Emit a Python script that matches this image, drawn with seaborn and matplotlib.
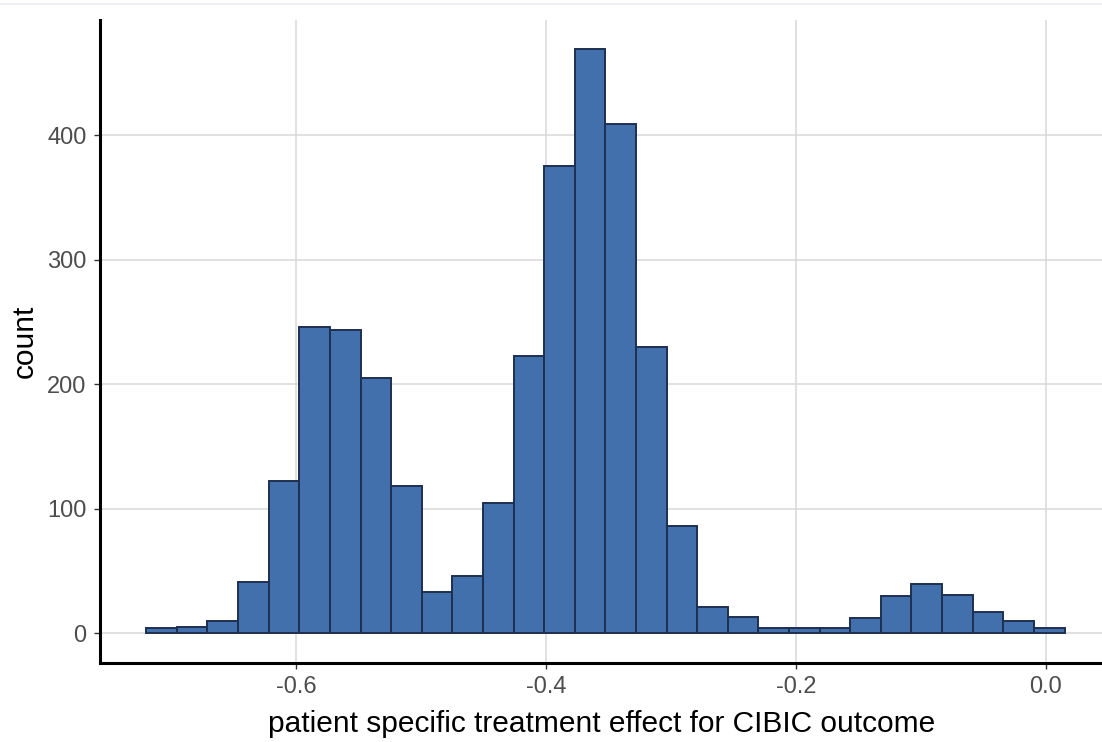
import numpy as np
import pandas as pd
import matplotlib
matplotlib.use("Agg")
import matplotlib.pyplot as plt
import seaborn as sns

# bins of the histogram (30 bins)
bin_start = -0.72
bin_width = 0.0245
counts = [4, 5, 10, 41, 122, 246, 244, 205, 118, 33,
          46, 105, 223, 375, 469, 409, 230, 86, 21, 13,
          4, 4, 4, 12, 30, 40, 31, 17, 10, 4]

edges = bin_start + bin_width * np.arange(len(counts) + 1)
centers = (edges[:-1] + edges[1:]) / 2
df = pd.DataFrame({'effect': centers, 'n': counts})

sns.set_theme(style='whitegrid')
plt.rcParams['font.family'] = ['Liberation Sans', 'DejaVu Sans']

fig = plt.figure(figsize=(11.02, 7.42), dpi=100)
ax = fig.add_axes([0.091, 0.107, 0.909, 0.866])

sns.histplot(data=df, x='effect', weights='n', bins=len(counts),
             binrange=(edges[0], edges[-1]), ax=ax,
             color='#4270AD', edgecolor='#1E3050', linewidth=1.4, alpha=1)

ax.set_xlim(-0.7568, 0.0450)
ax.set_ylim(-23.45, 492.5)
ax.set_xticks([-0.6, -0.4, -0.2, 0.0])
ax.set_xticklabels(['-0.6', '-0.4', '-0.2', '0.0'])
ax.set_yticks([0, 100, 200, 300, 400])

ax.grid(True, color='#D9D9D9', linewidth=1.1)
ax.set_axisbelow(True)
for side in ['top', 'right']:
    ax.spines[side].set_visible(False)
for side in ['left', 'bottom']:
    ax.spines[side].set_visible(True)
    ax.spines[side].set_color('black')
    ax.spines[side].set_linewidth(2.2)

ax.tick_params(axis='both', length=4, width=1, color='#333333',
               labelcolor='#4D4D4D', labelsize=17, pad=6, left=True, bottom=True)

ax.set_xlabel('patient specific treatment effect for CIBIC outcome',
              fontsize=21.5, color='black', labelpad=8)
ax.set_ylabel('count', fontsize=21.5, color='black', labelpad=6)

# faint border line at the top of the image
fig.add_artist(plt.Line2D([0, 1], [0.994, 0.994], color='#EDEDF2', linewidth=1.2))

fig.savefig('out.png', dpi=100, facecolor='white')
